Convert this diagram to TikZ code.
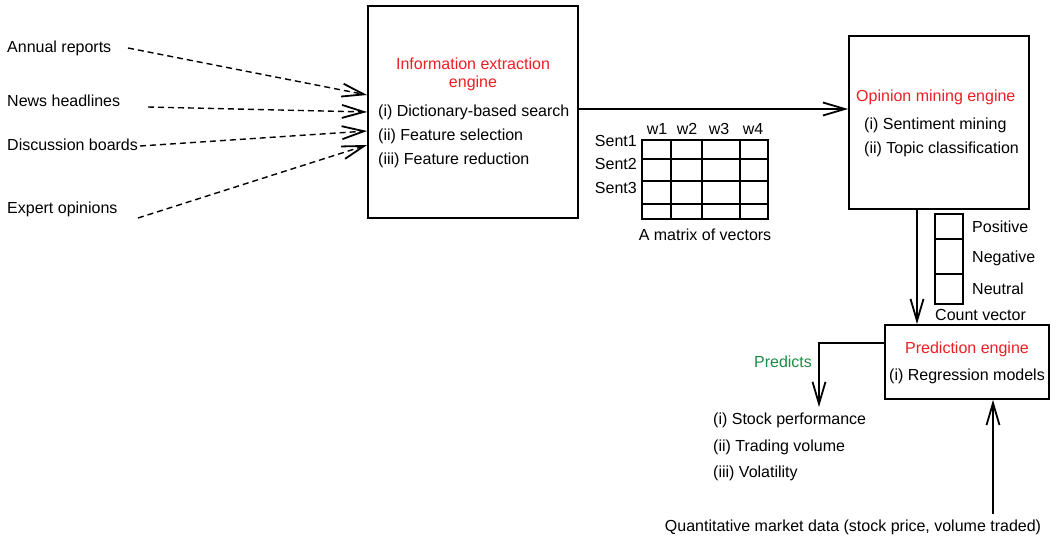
\documentclass[tikz,border=0pt]{standalone}
\usepackage{fontspec}
\setmainfont{Liberation Sans}
\usetikzlibrary{arrows.meta}
\definecolor{engred}{RGB}{237,30,36}
\definecolor{predgreen}{RGB}{30,140,70}
\begin{document}
\begin{tikzpicture}[x=1pt,y=-1pt,
  font=\fontsize{16}{18.5}\selectfont,
  lbl/.style={inner sep=0pt, anchor=west},
  clbl/.style={inner sep=0pt},
  rlbl/.style={inner sep=0pt, anchor=east},
  box/.style={draw, line width=1.8pt, inner sep=0pt},
  grid/.style={line width=1.6pt},
  arr/.style={line width=1.6pt, -{Straight Barb[length=22pt,width=13pt,line width=1.8pt]}},
  dasharr/.style={arr, line width=1.4pt, dash pattern=on 6pt off 4pt},
  title/.style={text=engred, inner sep=0pt}]
\useasboundingbox (0,0) rectangle (1057,538);

% sources
\node[lbl] (ar) at (7,48) {Annual reports};
\node[lbl] (nh) at (7,101) {News headlines};
\node[lbl] (db) at (7,145) {Discussion boards};
\node[lbl] (eo) at (7,209) {Expert opinions};

% information extraction engine
\node[box, minimum width=210pt, minimum height=212pt] (info) at (473,112) {};
\node[title, align=center] (infot) at (473,74.5) {Information extraction\\engine};
\node[lbl] (info1) at (378,112) {(i) Dictionary-based search};
\node[lbl] (info2) at (378,136) {(ii) Feature selection};
\node[lbl] (info3) at (378,160) {(iii) Feature reduction};

% dashed inputs
\coordinate (sa) at (128,48);
\coordinate (sn) at (148,107);
\coordinate (sd) at (140,146);
\coordinate (se) at (138,218);
\draw[dasharr] (sa) -- (info.west |- 0,95);
\draw[dasharr] (sn) -- (info.west |- 0,112);
\draw[dasharr] (sd) -- (info.west |- 0,131);
\draw[dasharr] (se) -- (info.west |- 0,145);

% opinion mining engine
\node[box, minimum width=180pt, minimum height=173pt] (op) at (939,122.5) {};
\node[title, anchor=west] (opt) at (856,97) {Opinion mining engine};
\node[lbl] (op1) at (864,125) {(i) Sentiment mining};
\node[lbl] (op2) at (864,149) {(ii) Topic classification};

\draw[arr] (info.east |- 0,109) -- (op.west |- 0,109);

% matrix of vectors
\draw[grid] (642,140) rectangle (768,219);
\foreach \yy in {159,181,204} \draw[grid] (642,\yy) -- (768,\yy);
\foreach \xx in {671,702,740} \draw[grid] (\xx,140) -- (\xx,219);
\node[clbl] (w1) at (657,129) {w1};
\node[clbl] (w2) at (687,129) {w2};
\node[clbl] (w3) at (719,129) {w3};
\node[clbl] (w4) at (753,129) {w4};
\node[rlbl] (s1) at (637,141) {Sent1};
\node[rlbl] (s2) at (637,164) {Sent2};
\node[rlbl] (s3) at (637,188) {Sent3};
\node[clbl] (mlab) at (705,235) {A matrix of vectors};

% count vector
\draw[grid] (935,214) rectangle (963,304);
\draw[grid] (935,239) -- (963,239);
\draw[grid] (935,274) -- (963,274);
\node[lbl] (pos) at (972,227) {Positive};
\node[lbl] (neg) at (972,258) {Negative};
\node[lbl] (neu) at (972,289) {Neutral};
\node[lbl] (cv) at (935,315) {Count vector};

% prediction engine
\node[box, minimum width=164pt, minimum height=74pt] (pred) at (967,362) {};
\node[title] (predt) at (967,349) {Prediction engine};
\node[clbl] (pred1) at (967,376) {(i) Regression models};

\draw[arr, line width=1.3pt] (op.south -| 917,0) -- (pred.north -| 917,0);

% predicts
\coordinate (ptip) at (819,407);
\draw[arr] (pred.west |- 0,343) -| (ptip);
\node[clbl, text=predgreen] (predicts) at (783,362) {Predicts};
\node[lbl] (o1) at (713,420) {(i) Stock performance};
\node[lbl] (o2) at (713,447) {(ii) Trading volume};
\node[lbl] (o3) at (713,473) {(iii) Volatility};

% quantitative data
\node[clbl] (quant) at (853,527) {Quantitative market data (stock price, volume traded)};
\coordinate (qs) at (993,514);
\draw[arr] (qs) -- (pred.south -| qs);
\end{tikzpicture}
\end{document}
